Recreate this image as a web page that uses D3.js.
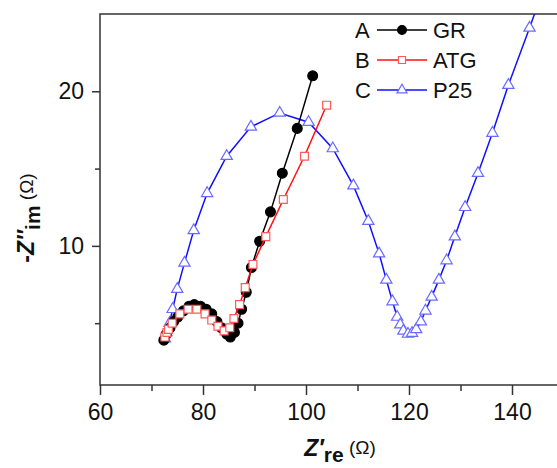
<!DOCTYPE html>
<html>
<head>
<meta charset="utf-8">
<script src="https://cdn.jsdelivr.net/npm/d3@7"></script>
<style>
body { margin: 0; background: #fff; }
text { font-family: "Liberation Sans", Arial, sans-serif; fill: #111; }
</style>
</head>
<body>
<div id="chart"></div>
<script>
// values (Z're, -Z''im in ohm)
var seriesNames = ["GR", "ATG", "P25"];
var legendLetters = ["A", "B", "C"];

var grRe = [72.4, 72.9, 73.6, 74.3, 75.1, 76.2, 77.3, 78.3, 79.5, 80.6, 81.7, 82.7, 83.6, 84.6, 85.3, 86.1, 86.8, 87.5, 88.4, 89.4, 91.0, 93.1, 95.4, 98.3, 101.3];
var grIm = [3.9, 4.3, 4.7, 5.1, 5.4, 5.8, 6.1, 6.2, 6.1, 5.9, 5.6, 5.1, 4.7, 4.3, 4.1, 4.4, 5.0, 5.9, 7.0, 8.6, 10.3, 12.2, 14.7, 17.6, 21.0];

var atgRe = [72.6, 73.0, 73.3, 74.0, 75.5, 77.1, 78.8, 80.4, 81.7, 82.9, 84.1, 85.2, 86.0, 87.1, 88.2, 89.7, 92.2, 95.6, 99.7, 104.0];
var atgIm = [4.1, 4.4, 4.6, 5.0, 5.6, 5.9, 5.9, 5.6, 5.2, 4.8, 4.5, 4.7, 5.3, 6.2, 7.3, 8.8, 10.6, 13.0, 15.8, 19.1];

var p25Re = [72.6, 72.9, 73.5, 74.1, 75.0, 76.4, 78.2, 80.8, 84.6, 89.3, 94.9, 100.5, 105.2, 109.2, 112.1, 114.2, 115.6, 116.8, 117.7, 118.3, 118.9, 119.8, 120.6, 121.4, 122.3, 123.2, 124.4, 125.8, 127.3, 128.9, 130.9, 133.4, 136.2, 139.3, 143.4, 147.6];
var p25Im = [4.0, 4.4, 5.0, 5.9, 7.2, 8.9, 11.0, 13.4, 15.8, 17.7, 18.6, 18.0, 16.3, 13.9, 11.6, 9.5, 7.8, 6.4, 5.4, 4.9, 4.5, 4.3, 4.35, 4.6, 5.1, 5.8, 6.7, 7.8, 9.05, 10.6, 12.5, 14.7, 17.3, 20.4, 24.1, 28.0];

var xTicks = [60, 80, 100, 120, 140];
var xMinorTicks = [70, 90, 110, 130];
var yTicks = [10, 20];
var yMinorTicks = [5, 15];

var W = 557, H = 468;
var plotL = 100, plotT = 14, plotB = 385, plotR = 563.5;

var svg = d3.select("#chart")
    .append("svg")
    .attr("width", W)
    .attr("height", H);

var x = d3.scaleLinear().domain([60, 150]).range([plotL, plotR]);
var y = d3.scaleLinear().domain([1, 25]).range([plotB, plotT]);

// axes
svg.append("g").attr("transform", "translate(0," + plotB + ")")
    .call(d3.axisBottom(x).tickValues(xTicks).tickSize(10).tickPadding(9));
svg.append("g").attr("transform", "translate(0," + plotB + ")")
    .call(d3.axisBottom(x).tickValues(xMinorTicks).tickSize(6).tickFormat(""));
svg.append("g").attr("transform", "translate(" + plotL + ",0)")
    .call(d3.axisLeft(y).tickValues(yTicks).tickSize(8).tickPadding(8));
svg.append("g").attr("transform", "translate(" + plotL + ",0)")
    .call(d3.axisLeft(y).tickValues(yMinorTicks).tickSize(5).tickFormat(""));

svg.selectAll(".domain").remove();
svg.selectAll(".tick line").attr("stroke", "#333").attr("stroke-width", 1.5);
svg.selectAll(".tick text").style("font-size", "23px").attr("fill", "#111");

svg.append("rect")
    .attr("x", plotL).attr("y", plotT)
    .attr("width", plotR - plotL).attr("height", plotB - plotT)
    .attr("fill", "none").attr("stroke", "#333").attr("stroke-width", 1.5);

// axis titles
var xTitle = svg.append("text")
    .attr("x", 340).attr("y", 456)
    .attr("text-anchor", "middle");
xTitle.append("tspan").style("font-weight", "bold").style("font-style", "italic").style("font-size", "23px").text("Z\u2032");
xTitle.append("tspan").style("font-weight", "bold").style("font-size", "21px").attr("dy", 6).text("re");
xTitle.append("tspan").style("font-size", "19px").attr("dy", -8).text(" (\u03A9)");

var yTitle = svg.append("text")
    .attr("transform", "translate(34,218) rotate(-90)")
    .attr("text-anchor", "middle");
yTitle.append("tspan").style("font-weight", "bold").style("font-size", "23px").text("-");
yTitle.append("tspan").style("font-weight", "bold").style("font-style", "italic").style("font-size", "23px").text("Z\u2032\u2032");
yTitle.append("tspan").style("font-weight", "bold").style("font-size", "21px").attr("dy", 6).text("im");
yTitle.append("tspan").style("font-size", "19px").attr("dy", -7).text(" (\u03A9)");

// data
svg.append("clipPath").attr("id", "plotclip")
    .append("rect")
    .attr("x", plotL).attr("y", plotT)
    .attr("width", plotR - plotL).attr("height", plotB - plotT);

var plot = svg.append("g").attr("clip-path", "url(#plotclip)");

var series = [
    { re: p25Re, im: p25Im, line: "#1010ff", mark: "#6a6aff", shape: d3.symbolTriangle, size: 55, fill: "#fff" },
    { re: grRe, im: grIm, line: "#000", mark: "#000", shape: d3.symbolCircle, size: 76, fill: "#000" },
    { re: atgRe, im: atgIm, line: "#ff1010", mark: "#ff5a5a", shape: d3.symbolSquare, size: 62, fill: "#fff" }
];

var line = d3.line()
    .x(function(d) { return x(d[0]); })
    .y(function(d) { return y(d[1]); });

series.forEach(function(s) {
    var pts = s.re.map(function(v, i) { return [v, s.im[i]]; });
    plot.append("path")
        .datum(pts)
        .attr("d", line)
        .attr("fill", "none")
        .attr("stroke", s.line)
        .attr("stroke-width", 1.5);
    plot.selectAll(null)
        .data(pts)
        .enter()
        .append("path")
            .attr("transform", function(d) { return "translate(" + x(d[0]) + "," + y(d[1]) + ")"; })
            .attr("d", d3.symbol(s.shape, s.size))
            .attr("fill", s.fill)
            .attr("stroke", s.mark)
            .attr("stroke-width", 1.2);
});

// legend (same order as letters: GR, ATG, P25)
var legendSeries = [series[1], series[2], series[0]];
var rowY = [38, 68, 98];
legendSeries.forEach(function(s, i) {
    var cy = rowY[i] - 8;
    svg.append("text").attr("x", 355).attr("y", rowY[i]).style("font-size", "22px").text(legendLetters[i]);
    svg.append("line")
        .attr("x1", 377).attr("x2", 427).attr("y1", cy).attr("y2", cy)
        .attr("stroke", s.line).attr("stroke-width", 1.5);
    svg.append("path")
        .attr("transform", "translate(402," + cy + ")")
        .attr("d", d3.symbol(s.shape, s.size * 0.8))
        .attr("fill", s.fill)
        .attr("stroke", s.mark)
        .attr("stroke-width", 1.2);
    svg.append("text").attr("x", 433).attr("y", rowY[i]).style("font-size", "22px").text(seriesNames[i]);
});
</script>
</body>
</html>
